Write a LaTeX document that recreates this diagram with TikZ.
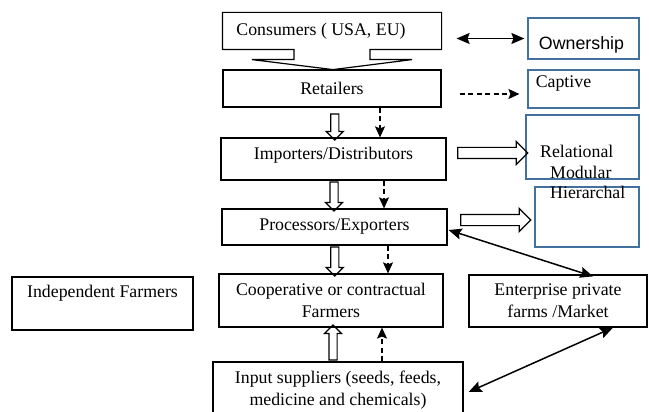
\documentclass[tikz,border=0pt]{standalone}
\usepackage{fontspec}
\setmainfont{Liberation Serif}
\setsansfont{Liberation Sans}
\usetikzlibrary{positioning, arrows.meta, calc, shapes.arrows}
\definecolor{boxblue}{RGB}{65,113,156}

\begin{document}
\begin{tikzpicture}[x=1pt, y=-1pt,
		box/.style={draw, line width=1.2pt, align=center, inner sep=0pt},
		bbox/.style={draw=boxblue, line width=1.2pt, inner sep=0pt},
		fat/.style={draw, single arrow, line width=1.2pt, inner sep=3.5pt, single arrow head extend=4.5pt, single arrow tip angle=90},
		fatwide/.style={fat, inner sep=5pt, single arrow head extend=6pt},
		dsh/.style={-{Stealth[length=11pt, width=10pt, inset=2pt]}, dash pattern=on 5pt off 3.5pt, line width=1.4pt},
		dbl/.style={{Stealth[length=13pt, width=11pt, inset=2pt]}-{Stealth[length=13pt, width=11pt, inset=2pt]}, line width=1.5pt},
		font=\fontsize{17.8}{22}\selectfont]
		
		\useasboundingbox (0,0) rectangle (649,412);
		
		% Caixas da cadeia
		\node (cons) [box, draw=none, minimum width=218pt, minimum height=36pt, label={[xshift=-11pt]center:Consumers ( USA, EU)}] at (332,31) {};
		\draw[line width=1.2pt] (cons.south west) -- (cons.north west) -- (cons.north east) -- (cons.south east)
			-- ($(cons.south)+(38,0)$) -- ++(0,10) -- ++(42,0) -- ($(cons.south)+(1,20)$)
			-- ($(cons.south)+(-80,10)$) -- ++(42,0) -- ($(cons.south)+(-38,0)$) -- cycle;
		\node (ret) [box, minimum width=218pt, minimum height=37pt] at (332,88.5) {Retailers};
		\node (imp) [box, minimum width=225pt, minimum height=42pt, label={[yshift=4pt]center:Importers/Distributors}] at (333.5,159) {};
		\node (proc) [box, minimum width=225pt, minimum height=36pt] at (334.5,227) {Processors/Exporters};
		\node (coop) [box, minimum width=224pt, minimum height=53pt] at (331,300.5) {Cooperative or contractual\\Farmers};
		\node (indep) [box, minimum width=181pt, minimum height=53pt, label={[yshift=10.5pt]center:Independent Farmers}] at (102.5,303.5) {};
		\node (ent) [box, minimum width=178pt, minimum height=52pt] at (558,301) {Enterprise private\\farms /Market};
		\node (inp) [box, minimum width=250pt, minimum height=56pt] at (338,390) {Input suppliers (seeds, feeds,\\medicine and chemicals)};
		
		% Caixas azuis
		\node (own) [bbox, minimum width=111pt, minimum height=41pt, label={[xshift=-2pt, yshift=-6pt, font=\fontsize{17.8}{22}\sffamily]center:Ownership}] at (583.5,38.5) {};
		\node (cap) [bbox, minimum width=111pt, minimum height=38pt, label={[xshift=-20pt, yshift=5pt]center:Captive}] at (583.5,89) {};
		\node (rel) [bbox, minimum width=113pt, minimum height=64pt] at (582.5,147) {};
		\node (hier) [bbox, minimum width=104pt, minimum height=60pt] at (587,217) {};
		\node (rmh) [anchor=west, align=left, inner sep=0pt, font=\fontsize{17.8}{20.5}\selectfont] at (540,172) {Relational\\\hspace*{10pt}Modular\\\hspace*{10pt}Hierarchal};
		
		% Setas largas
		\node (f1) [fat, rotate=-90, minimum height=26pt] at ($(ret.south)!.5!(imp.north)+(2,2.5)$) {};
		\node (f2) [fat, rotate=-90, minimum height=29pt] at ($(imp.south)!.5!(proc.north)$) {};
		\node (f3) [fat, rotate=-90, minimum height=29pt] at ($(proc.south)!.5!(coop.north)+(2,0)$) {};
		\node (f4) [fat, rotate=90, minimum height=35pt] at ($(inp.north)!.5!(coop.south)+(-1.5,0)$) {};
		\node (f5) [fatwide, minimum height=70pt] at ($(imp.east)!.5!(rel.west)+(4,0)$) {};
		\node (f6) [fatwide, minimum height=70pt] at ($(proc.east)!.5!(hier.west)+(2,-2)$) {};
		
		% Conexões
		\draw[dsh] ([xshift=48pt]ret.south) -- ([xshift=48pt]ret.south |- imp.north);
		\draw[dsh] ([xshift=50.5pt]imp.south) -- ([xshift=50.5pt]imp.south |- proc.north);
		\draw[dsh] ([xshift=53.5pt]proc.south) -- ([xshift=53.5pt]proc.south |- coop.north);
		\draw[dsh] ([xshift=44pt]inp.north) -- ([xshift=44pt]inp.north |- coop.south);
		\draw[dsh] ($(ret.east)+(18,5.5)$) -- ($(cap.west)+(-8,5)$);
		
		\draw[dbl] ($(cons.east |- own.west)+(15,0)$) -- ($(own.west)+(-3,0)$);
		\draw[dbl] ($(proc.east)+(1,3)$) -- ($(ent.north)+(35,2)$);
		\draw[dbl] ($(inp.east)+(5,2)$) -- ($(ent.south)+(55,0)$);
	\end{tikzpicture}
\end{document}
